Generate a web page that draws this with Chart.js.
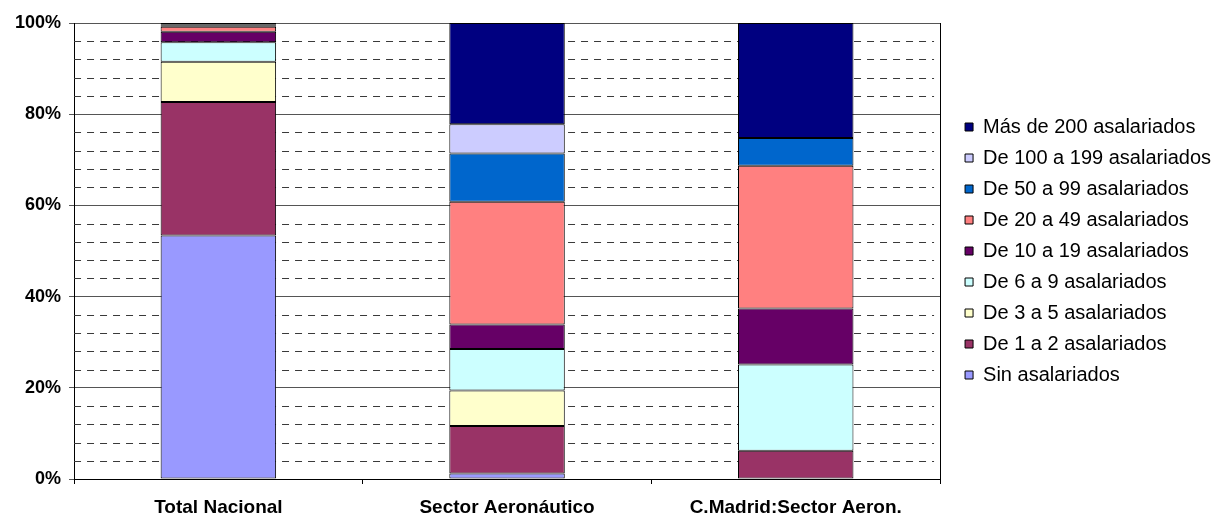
<!DOCTYPE html>
<html>
<head>
<meta charset="utf-8">
<script src="https://cdn.jsdelivr.net/npm/chart.js@4"></script>
<style>
  html, body { margin: 0; padding: 0; background: #fff; }
</style>
</head>
<body>
<canvas id="empresasChart" width="1213" height="516"></canvas>
<script>
// Distribución de empresas por tramo de asalariados (%)
const categories = ['Total Nacional', 'Sector Aeronáutico', 'C.Madrid:Sector Aeron.'];

const sinAsalariados = [53.4, 1.2, 0];
const de1a2 = [29.3, 10.4, 6.2];
const de3a5 = [8.8, 7.8, 0];
const de6a9 = [4.3, 9.1, 18.9];
const de10a19 = [2.3, 5.4, 12.3];
const de20a49 = [1.1, 26.9, 31.3];
const de50a99 = [0.3, 10.6, 6.1];
const de100a199 = [0.2, 6.4, 0];
const mas200 = [0.3, 22.2, 25.2];

const yMajorTicks = [0, 20, 40, 60, 80, 100];
const yMinorStep = 4;

const fontFamily = '"Liberation Sans", Arial, sans-serif';

function serie(label, data, color) {
    return {
        label: label,
        data: data,
        backgroundColor: color,
        borderColor: '#000',
        borderWidth: c => (c.raw === 0 ? 0 : 1),
        borderSkipped: false
    };
}

// dashed minor grid + right frame of the plot
const plotFrame = {
    id: 'plotFrame',
    beforeDatasetsDraw(chart) {
        const { ctx, chartArea, scales } = chart;
        const y = scales.y;
        ctx.save();
        ctx.lineWidth = 1;
        ctx.strokeStyle = '#3a3a3a';
        ctx.setLineDash([7, 6]);
        for (let v = yMinorStep; v < 100; v += yMinorStep) {
            if (yMajorTicks.includes(v)) continue;
            const py = Math.round(y.getPixelForValue(v)) + 0.5;
            ctx.beginPath();
            ctx.moveTo(chartArea.left, py);
            ctx.lineTo(chartArea.right - 6, py);
            ctx.stroke();
        }
        ctx.setLineDash([]);
        ctx.strokeStyle = '#000';
        const px = Math.round(chartArea.right) + 0.5;
        ctx.beginPath();
        ctx.moveTo(px, chartArea.top);
        ctx.lineTo(px, chartArea.bottom + 5);
        ctx.stroke();
        ctx.restore();
    }
};

const ctx = document.getElementById('empresasChart').getContext('2d');
new Chart(ctx, {
    type: 'bar',
    data: {
        labels: categories,
        datasets: [
            serie('Sin asalariados', sinAsalariados, '#9999FF'),
            serie('De 1 a 2 asalariados', de1a2, '#993366'),
            serie('De 3 a 5 asalariados', de3a5, '#FFFFCC'),
            serie('De 6 a 9 asalariados', de6a9, '#CCFFFF'),
            serie('De 10 a 19 asalariados', de10a19, '#660066'),
            serie('De 20 a 49 asalariados', de20a49, '#FF8080'),
            serie('De 50 a 99 asalariados', de50a99, '#0066CC'),
            serie('De 100 a 199 asalariados', de100a199, '#CCCCFF'),
            serie('Más de 200 asalariados', mas200, '#000080')
        ]
    },
    options: {
        responsive: false,
        animation: false,
        layout: { padding: { left: 7, top: 23, right: -8, bottom: -15 } },
        datasets: {
            bar: { categoryPercentage: 1.0, barPercentage: 0.4 }
        },
        plugins: {
            tooltip: { enabled: false },
            legend: {
                position: 'right',
                fullSize: false,
                reverse: true,
                labels: {
                    boxWidth: 8,
                    boxHeight: 8,
                    padding: 11,
                    color: '#000',
                    font: { family: fontFamily, size: 20 }
                }
            }
        },
        scales: {
            x: {
                stacked: true,
                grid: {
                    offset: true,
                    drawOnChartArea: false,
                    color: '#000',
                    tickLength: 5
                },
                border: { color: '#000', width: 1 },
                ticks: {
                    color: '#000',
                    padding: 14,
                    maxRotation: 0,
                    font: { family: fontFamily, size: 19, weight: 'bold', lineHeight: 1 }
                }
            },
            y: {
                stacked: true,
                min: 0,
                max: 100,
                grid: {
                    color: '#555',
                    tickLength: 5
                },
                border: { color: '#000', width: 1 },
                ticks: {
                    stepSize: 20,
                    color: '#000',
                    padding: 8,
                    callback: v => v + '%',
                    font: { family: fontFamily, size: 18, weight: 'bold' }
                }
            },
            // hidden axis: only keeps a gap between the plot and the legend
            gap: {
                axis: 'y',
                position: 'right',
                display: false,
                min: 0,
                max: 100,
                afterFit: s => { s.width = 14; }
            }
        }
    },
    plugins: [plotFrame]
});
</script>
</body>
</html>
